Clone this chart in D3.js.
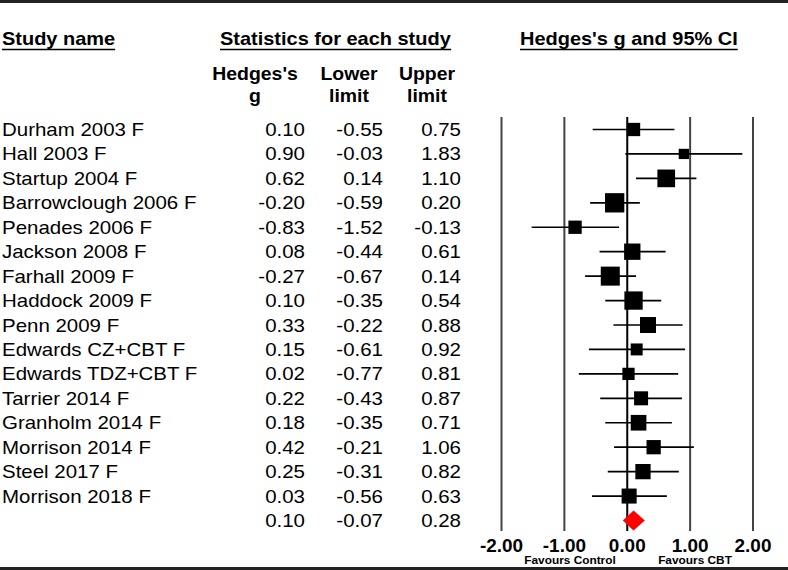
<!DOCTYPE html>
<html>
<head>
<meta charset="utf-8">
<script src="https://cdn.jsdelivr.net/npm/d3@7"></script>
<style>
  html, body { margin: 0; padding: 0; background: #fff; }
  svg { display: block; font-family: "Liberation Sans", Arial, Helvetica, sans-serif; }
</style>
</head>
<body>
<div id="chart"></div>
<script>
// data
const studies = [
  "Durham 2003 F", "Hall 2003 F", "Startup 2004 F", "Barrowclough 2006 F",
  "Penades 2006 F", "Jackson 2008 F", "Farhall 2009 F", "Haddock 2009 F",
  "Penn 2009 F", "Edwards CZ+CBT F", "Edwards TDZ+CBT F", "Tarrier 2014 F",
  "Granholm 2014 F", "Morrison 2014 F", "Steel 2017 F", "Morrison 2018 F",
];
const hedgesG = [0.10, 0.90, 0.62, -0.20, -0.83, 0.08, -0.27, 0.10, 0.33, 0.15, 0.02, 0.22, 0.18, 0.42, 0.25, 0.03];
const lowerLimit = [-0.55, -0.03, 0.14, -0.59, -1.52, -0.44, -0.67, -0.35, -0.22, -0.61, -0.77, -0.43, -0.35, -0.21, -0.31, -0.56];
const upperLimit = [0.75, 1.83, 1.10, 0.20, -0.13, 0.61, 0.14, 0.54, 0.88, 0.92, 0.81, 0.87, 0.71, 1.06, 0.82, 0.63];
// relative weights (%)
const relWeight = [4.7, 2.8, 8.3, 9.9, 4.7, 7.1, 9.6, 8.9, 6.8, 3.8, 4.0, 5.2, 6.5, 5.4, 6.2, 6.0];
// pooled estimate: g, lower, upper
const summaryStats = [0.10, -0.07, 0.28];
const tickValues = [-2, -1, 0, 1, 2];
const favourLabels = ["Favours Control", "Favours CBT"];

const width = 788, height = 570;
const fmt = (d) => d.toFixed(2);

const svg = d3
  .select("#chart")
  .append("svg")
  .attr("width", width)
  .attr("height", height)
  .attr("viewBox", "0 0 " + width + " " + height);

// scales
const xScale = d3.scaleLinear().domain([-2, 2]).range([501.5, 753]);
const yScale = d3.scaleLinear().domain([0, studies.length]).range([129.5, 520.5]);
const boxScale = d3.scaleSqrt().domain([0, 10]).range([0, 19.4]);

// text helper: glyphs in the reference are a bit wider than the font
function addText(parent, str, x, y, opts) {
  const o = Object.assign({ size: 18.6, sx: 1.1, weight: "normal", anchor: "start" }, opts);
  return parent
    .append("text")
    .text(str)
    .attr("transform", "translate(" + x + "," + y + ") scale(" + o.sx + ",1)")
    .attr("font-size", o.size)
    .attr("font-weight", o.weight)
    .attr("text-anchor", o.anchor)
    .attr("fill", "#000");
}

// frame lines top and bottom
svg.append("line").attr("x1", 0).attr("x2", width).attr("y1", 1.5).attr("y2", 1.5)
  .attr("stroke", "#222").attr("stroke-width", 3);
svg.append("line").attr("x1", 0).attr("x2", width).attr("y1", 568.5).attr("y2", 568.5)
  .attr("stroke", "#222").attr("stroke-width", 3);

// main headers with underlines
const headers = svg.append("g").attr("id", "headers");
[["Study name", 2], ["Statistics for each study", 220], ["Hedges's g and 95% CI", 520]].forEach(([label, x]) => {
  const t = addText(headers, label, x, 44.5, { size: 18, sx: 1.11, weight: "bold" });
  const w = t.node().getBBox().width * 1.11;
  headers.append("line")
    .attr("x1", x).attr("x2", x + w)
    .attr("y1", 49.5).attr("y2", 49.5)
    .attr("stroke", "#000").attr("stroke-width", 1.5);
});

// column sub headers
const colRight = [305, 383, 461];
const subHeads = [["Hedges's", "g", 255], ["Lower", "limit", 349], ["Upper", "limit", 427]];
subHeads.forEach(([a, b, cx]) => {
  addText(headers, a, cx, 80, { size: 18, sx: 1.08, weight: "bold", anchor: "middle" });
  addText(headers, b, cx, 101.5, { size: 18, sx: 1.08, weight: "bold", anchor: "middle" });
});

// table rows
const table = svg.append("g").attr("id", "table");
studies.forEach((name, i) => {
  const y = yScale(i) + 6.5;
  addText(table, name, 2, y);
  [hedgesG[i], lowerLimit[i], upperLimit[i]].forEach((v, j) => {
    addText(table, fmt(v), colRight[j], y, { anchor: "end" });
  });
});
summaryStats.forEach((v, j) => {
  addText(table, fmt(v), colRight[j], yScale(studies.length) + 6.5, { anchor: "end" });
});

// vertical reference lines
svg.append("g")
  .attr("id", "grid")
  .selectAll("line")
  .data(tickValues)
  .enter()
  .append("line")
  .attr("x1", (d) => xScale(d))
  .attr("x2", (d) => xScale(d))
  .attr("y1", 117)
  .attr("y2", 531)
  .attr("stroke", (d) => (d === 0 ? "#000" : "#444"))
  .attr("stroke-width", 2);

// confidence intervals and boxes
const rows = svg
  .append("g")
  .attr("id", "studies")
  .selectAll("g")
  .data(studies)
  .enter()
  .append("g");

rows.append("line")
  .attr("x1", (d, i) => xScale(lowerLimit[i]))
  .attr("x2", (d, i) => xScale(upperLimit[i]))
  .attr("y1", (d, i) => yScale(i))
  .attr("y2", (d, i) => yScale(i))
  .attr("stroke", "#000")
  .attr("stroke-width", 1.7);

rows.append("rect")
  .attr("x", (d, i) => xScale(hedgesG[i]) - boxScale(relWeight[i]) / 2)
  .attr("y", (d, i) => yScale(i) - boxScale(relWeight[i]) / 2)
  .attr("width", (d, i) => boxScale(relWeight[i]))
  .attr("height", (d, i) => boxScale(relWeight[i]))
  .attr("fill", "#000");

// summary diamond
const sy = yScale(studies.length);
svg.append("path")
  .attr("d", d3.line()([
    [xScale(summaryStats[1]), sy],
    [xScale(summaryStats[0]), sy - 10],
    [xScale(summaryStats[2]), sy],
    [xScale(summaryStats[0]), sy + 10],
  ]) + "Z")
  .attr("fill", "#ff0000");

// axis labels
const axis = svg.append("g").attr("id", "axis");
tickValues.forEach((d) => {
  addText(axis, fmt(d), xScale(d), 551.5, { size: 17.7, sx: 1.07, weight: "bold", anchor: "middle" });
});
addText(axis, favourLabels[0], 570, 564, { size: 10.5, sx: 1.13, weight: "bold", anchor: "middle" });
addText(axis, favourLabels[1], 695, 564, { size: 10.5, sx: 1.13, weight: "bold", anchor: "middle" });
</script>
</body>
</html>
